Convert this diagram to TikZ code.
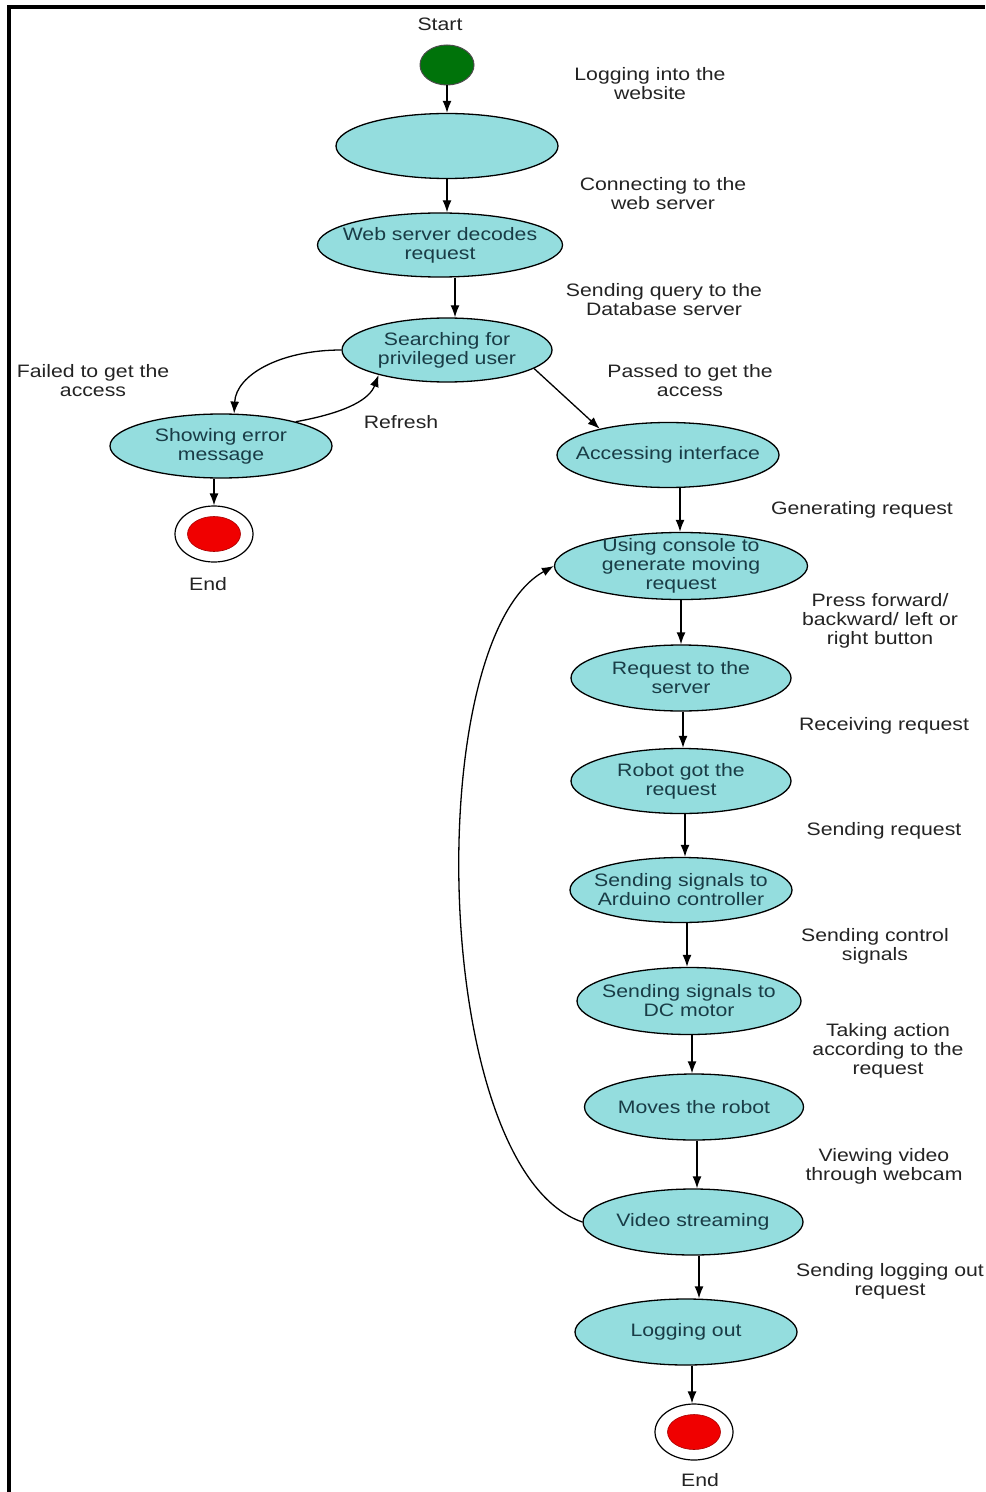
\documentclass[tikz,border=0pt]{standalone}
\usepackage{fontspec}
\setmainfont[FakeStretch=1.18]{Liberation Sans}
\usetikzlibrary{shapes.geometric,arrows.meta}
\definecolor{statefill}{RGB}{148,221,222}
\definecolor{statetext}{RGB}{25,60,70}
\definecolor{lbltext}{RGB}{35,35,35}
\definecolor{startgreen}{RGB}{0,115,10}
\definecolor{endred}{RGB}{240,0,0}
\begin{document}
\begin{tikzpicture}[x=0.5pt,y=-0.5pt,
  font=\fontsize{9}{9.5}\selectfont,
  st/.style={ellipse, draw=black, line width=0.65pt, fill=statefill, inner sep=0pt,
    minimum width=111pt, minimum height=32.5pt},
  sl/.style={text=statetext, align=center, inner sep=0pt},
  lbl/.style={text=lbltext, align=center, inner sep=0pt},
  arr/.style={-{Latex[length=6pt,width=4.5pt]}, line width=0.65pt},
  startc/.style={ellipse, fill=startgreen, draw=black!70, line width=0.5pt,
    minimum width=27pt, minimum height=20pt, inner sep=0pt},
  endo/.style={ellipse, draw=black, line width=0.6pt, fill=white,
    minimum width=39pt, minimum height=28pt, inner sep=0pt},
  endi/.style={ellipse, fill=endred, draw=endred!70!black, line width=0.3pt,
    minimum width=26.5pt, minimum height=17.5pt, inner sep=0pt}
]
\useasboundingbox (0,0) rectangle (985,1492);
% frame
\draw[line width=2pt] (9,1492) -- (9,7) -- (985,7);

% start
\node[lbl] (startlbl) at (440,24) {Start};
\node[startc] (start) at (447,65) {};

% states
\node[st] (login) at (447,146) {};
\node[st, minimum width=122.5pt, minimum height=32pt,
  label={[sl]center:Web server decodes\\request}] (web) at (440,245) {};
\node[st, minimum width=105pt, minimum height=32pt,
  label={[sl]center:Searching for\\privileged user}] (search) at (447,350) {};
\node[st, minimum height=32pt,
  label={[sl]center:Showing error\\message}] (error) at (221,446) {};
\node[endo] (end1) at (214,534) {};
\node[endi] (end1i) at (214,534) {};
\node[lbl] (end1lbl) at (208,584) {End};

\node[st, label={[sl]center:Accessing interface}] (access) at (668,455) {};
\node[st, minimum width=126.5pt, minimum height=33.5pt,
  label={[sl]center:Using console to\\generate moving\\request}] (console) at (681,566) {};
\node[st, minimum width=110pt, minimum height=33pt,
  label={[sl]center:Request to the\\server}] (request) at (681,678) {};
\node[st, minimum width=110pt,
  label={[sl]center:Robot got the\\request}] (robot) at (681,781) {};
\node[st, label={[sl]center:Sending signals to\\Arduino controller}] (arduino) at (681,890) {};
\node[st, minimum width=112pt, minimum height=33.5pt,
  label={[sl]center:Sending signals to\\DC motor}] (dc) at (689,1001) {};
\node[st, minimum width=109.5pt, minimum height=33pt,
  label={[sl]center:Moves the robot}] (moves) at (694,1107) {};
\node[st, minimum width=110pt, minimum height=33pt,
  label={[sl]center:Video streaming}] (video) at (693,1222) {};
\node[st, minimum height=33pt,
  label={[sl]center:Logging out}] (logout) at (686,1332) {};
\node[endo] (end2) at (694,1432) {};
\node[endi] (end2i) at (694,1432) {};
\node[lbl] (end2lbl) at (700,1480) {End};

% transition labels
\node[lbl] (t1) at (650,84) {Logging into the\\website};
\node[lbl] (t2) at (663,194) {Connecting to the\\web server};
\node[lbl] (t3) at (664,300) {Sending query to the\\Database server};
\node[lbl] (t4) at (93,381) {Failed to get the\\access};
\node[lbl] (t5) at (401,422) {Refresh};
\node[lbl] (t6) at (690,381) {Passed to get the\\access};
\node[lbl] (t7) at (862,510) {Generating request};
\node[lbl] (t8) at (880,621) {Press forward/\\backward/ left or\\right button};
\node[lbl] (t9) at (884,726) {Receiving request};
\node[lbl] (t10) at (884,831) {Sending request};
\node[lbl] (t11) at (875,946) {Sending control\\signals};
\node[lbl] (t12) at (888,1051) {Taking action\\according to the\\request};
\node[lbl] (t13) at (884,1166) {Viewing video\\through webcam};
\node[lbl] (t14) at (890,1281) {Sending logging out\\request};

% connectors
\draw[arr] (start) -- (login);
\draw[arr] (login.south) -- (login.south |- web.north);
\draw[arr] ([xshift=7.5pt]web.south) -- ([xshift=7.5pt]web.south |- search.north);
\draw[arr] (search.west) .. controls (280,350) and (236,375) .. (error.68);
\draw[arr] (error.18) .. controls (350,412) and (370,398) .. (search.200);
\draw[arr] ([xshift=-3.5pt]error.south) -- ([xshift=-3.5pt]error.south |- end1.north);
\draw[arr] (search.-12) -- (access.159);
\draw[arr] ([xshift=6pt]access.south) -- ([xshift=6pt]access.south |- console.north);
\draw[arr] (console.south) -- (console.south |- request.north);
\draw[arr] ([xshift=1pt]request.south) -- ([xshift=1pt]request.south |- robot.north);
\draw[arr] ([xshift=2pt]robot.south) -- ([xshift=2pt]robot.south |- arduino.north);
\draw[arr] ([xshift=3pt]arduino.south) -- ([xshift=3pt]arduino.south |- dc.north);
\draw[arr] ([xshift=1.5pt]dc.south) -- ([xshift=1.5pt]dc.south |- moves.north);
\draw[arr] ([xshift=1.5pt]moves.south) -- ([xshift=1.5pt]moves.south |- video.north);
\draw[arr] ([xshift=3pt]video.south) -- ([xshift=3pt]video.south |- logout.north);
\draw[arr] ([xshift=3pt]logout.south) -- ([xshift=3pt]logout.south |- end2.north);
\draw[arr] (video.west) .. controls (430,1170) and (420,640) .. (console.west);
\end{tikzpicture}
\end{document}
